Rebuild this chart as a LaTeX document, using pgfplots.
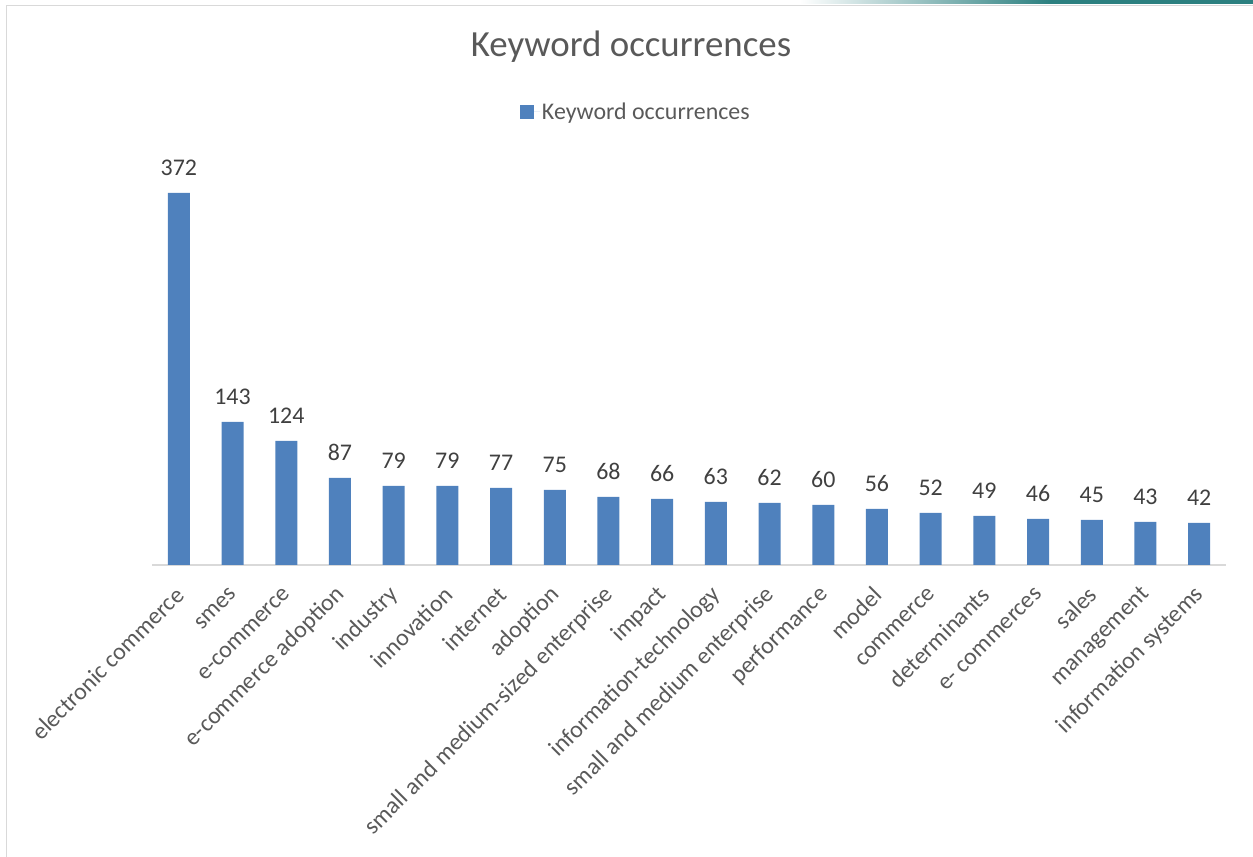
\documentclass[border=0pt]{standalone}
\usepackage{fontspec}
\setmainfont{Carlito}
\usepackage{pgfplots}
\pgfplotsset{compat=1.18}
\definecolor{barblue}{HTML}{4F81BD}
\definecolor{txtgray}{HTML}{595959}
\definecolor{lblgray}{HTML}{404040}
\definecolor{linegray}{HTML}{D9D9D9}
\definecolor{teal1}{RGB}{44,128,128}
\begin{document}
\begin{tikzpicture}[x=1bp,y=1bp]
\path[use as bounding box] (0,0) rectangle (1253,857);
% frame
\draw[linegray, line width=1.5bp] (6.5,0) -- (6.5,851.5) -- (1253,851.5);
\shade[left color=white, right color=teal1] (800,853) rectangle (1050,857);
\fill[teal1] (1050,852.5) rectangle (1253,857);
\node[anchor=base, text=txtgray, font=\fontsize{37}{42}\selectfont] at (631,800) {Keyword occurrences};
\begin{axis}[
  at={(152bp,292bp)}, anchor=south west,
  scale only axis, width=1074bp, height=400bp,
  xmin=-0.5, xmax=19.5, ymin=0, ymax=400,
  axis x line*=bottom, axis y line=none,
  x axis line style={linegray, line width=1.5bp, -},
  xtick=data, major tick length=0pt,
  xticklabels={electronic commerce, smes, e-commerce, e-commerce adoption, industry, innovation, internet, adoption, small and medium-sized enterprise, impact, information-technology, small and medium enterprise, performance, model, commerce, determinants, e- commerces, sales, management, information systems},
  xticklabel style={font=\fontsize{24}{27}\selectfont, text=txtgray, inner sep=0pt, anchor=east, xshift=1bp, yshift=-26bp, rotate=45},
  ytick=\empty,
  ybar, bar width=22bp,
  nodes near coords,
  /pgf/number format/assume math mode=true,
  nodes near coords style={font=\fontsize{24}{27}\selectfont, text=lblgray, anchor=base, inner sep=0pt, yshift=17bp},
  legend style={at={(axis description cs:0.4505,1.1325)}, anchor=center, draw=none, fill=none, font=\fontsize{24}{27}\selectfont, text=txtgray, inner sep=0pt, /tikz/every even column/.append style={column sep=0pt}},
  legend image code/.code={\path (0bp,0bp) -- (20bp,0bp); \fill[barblue] (0bp,-7bp) rectangle (14bp,7bp);},
  legend cell align=left,
  clip=false,
]
\addplot[fill=barblue, draw=none] coordinates {
(0,372) (1,143) (2,124) (3,87) (4,79) (5,79) (6,77) (7,75) (8,68) (9,66)
(10,63) (11,62) (12,60) (13,56) (14,52) (15,49) (16,46) (17,45) (18,43) (19,42)};
\addlegendentry{Keyword occurrences}
\end{axis}
\end{tikzpicture}
\end{document}
